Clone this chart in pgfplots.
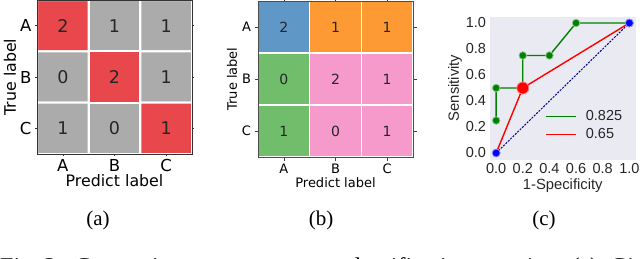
\documentclass[border=0pt]{standalone}
\usepackage{fontspec}
\setmainfont{DejaVu Sans}
\newfontfamily\arialf{Liberation Sans}
\newfontfamily\timesf{Liberation Serif}
\usepackage{pgfplots}
\pgfplotsset{compat=1.18}
\definecolor{cmred}{RGB}{232,71,75}
\definecolor{cmgray}{RGB}{171,171,171}
\definecolor{sbbg}{RGB}{234,234,242}
\definecolor{rocgreen}{RGB}{0,128,0}
\definecolor{rocnavy}{RGB}{0,0,140}
\newcommand{\fs}[1]{\fontsize{#1}{#1}\selectfont}
\begin{document}
\begin{tikzpicture}[x=1pt,y=1pt]
% ---------- (a)
\begin{axis}[at={(37pt,104pt)}, anchor=south west, scale only axis,
  width=155pt, height=154pt,
  xmin=-0.5, xmax=2.5, ymin=-0.5, ymax=2.5, y dir=reverse,
  xtick={0,1,2}, ytick={0,1,2}, xticklabels={A,B,C}, yticklabels={A,B,C},
  tick align=outside, major tick length=2pt, tick style={black!80, line width=0.6pt},
  axis line style={black!80, line width=0.8pt}, axis on top,
  tick label style={font=\fs{16.5}},
  xlabel={Predict label}, ylabel={True label},
  label style={font=\fs{15.8}},
  xlabel style={yshift=4pt}, ylabel style={yshift=-3pt},
  colormap={cmA}{rgb255=(171,171,171) rgb255=(232,71,75)},
  colormap access=direct]
\addplot[matrix plot*, mesh/cols=3, point meta=explicit, draw=white, line width=2pt]
  table[meta=c] {
x y c
0 0 1
1 0 0
2 0 0
0 1 0
1 1 1
2 1 0
0 2 0
1 2 0
2 2 1
};
\addplot[draw=none, mark=none, point meta=explicit symbolic,
  nodes near coords={\pgfplotspointmeta},
  every node near coord/.append style={anchor=center, font=\fs{17.5}, text=black!85}]
  table[meta=v] {
x y v
0 0 2
1 0 1
2 0 1
0 1 0
1 1 2
2 1 1
0 2 1
1 2 0
2 2 1
};
\end{axis}
% ---------- (b)
\begin{axis}[at={(258pt,101pt)}, anchor=south west, scale only axis,
  width=155pt, height=156pt,
  xmin=-0.5, xmax=2.5, ymin=-0.5, ymax=2.5, y dir=reverse,
  xtick={0,1,2}, ytick={0,1,2}, xticklabels={A,B,C}, yticklabels={A,B,C},
  tick align=outside, major tick length=3.5pt, tick style={black!75, line width=0.6pt},
  axis line style={black!70, line width=0.6pt}, axis on top,
  tick label style={font=\fs{13}},
  xlabel={Predict label}, ylabel={True label},
  label style={font=\fs{13}},
  xlabel style={yshift=3pt}, ylabel style={yshift=-2pt},
  colormap={cmB}{rgb255=(95,151,199) rgb255=(253,154,51) rgb255=(112,190,107) rgb255=(246,154,204)},
  colormap access=direct]
\addplot[matrix plot*, mesh/cols=3, point meta=explicit, draw=white, line width=1.5pt]
  table[meta=c] {
x y c
0 0 0
1 0 1
2 0 1
0 1 2
1 1 3
2 1 3
0 2 2
1 2 3
2 2 3
};
\addplot[draw=none, mark=none, point meta=explicit symbolic,
  nodes near coords={\pgfplotspointmeta},
  every node near coord/.append style={anchor=center, font=\fs{14}, text=black!85}]
  table[meta=v] {
x y v
0 0 2
1 0 1
2 0 1
0 1 0
1 1 2
2 1 1
0 2 1
1 2 0
2 2 1
};
\end{axis}
% ---------- (c)
\begin{axis}[at={(489.5pt,98.5pt)}, anchor=south west, scale only axis,
  width=146.5pt, height=143pt,
  xmin=-0.05, xmax=1.05, ymin=-0.05, ymax=1.05,
  axis background/.style={fill=sbbg}, axis line style={draw=none},
  major tick length=0pt,
  xtick={0,0.2,0.4,0.6,0.8,1}, ytick={0,0.2,0.4,0.6,0.8,1},
  tick label style={font=\arialf\fs{14.5}, text=black!85},
  /pgf/number format/.cd, fixed, fixed zerofill, precision=1, assume math mode=true, /pgfplots/.cd,
  xlabel={1-Specificity}, ylabel={Sensitivity},
  label style={font=\arialf\fs{14.8}, text=black!85},
  xlabel style={yshift=1pt}, ylabel style={yshift=-3pt},
  legend style={draw=none, fill=none, at={(0.36,0.37)}, anchor=north west,
    font=\arialf\fs{14.5}, row sep=2pt, text=black!85},
  legend cell align=left,
  legend image code/.code={\draw[#1] (0pt,0pt) -- (30pt,0pt);}]
\addplot[rocgreen, line width=1.4pt, mark=*, mark size=3.8pt,
  mark options={fill=rocgreen, draw=rocgreen!45, line width=0.8pt}]
  coordinates {(0,0.25) (0,0.5) (0.2,0.5) (0.2,0.75) (0.4,0.75) (0.6,1.0) (1.0,1.0)};
\addlegendentry{\hspace{7pt}0.825}
\addplot[red, line width=1.4pt, mark=none]
  coordinates {(0,0) (0.2,0.5) (1,1)};
\addlegendentry{\hspace{7pt}0.65}
\addplot[only marks, mark=*, mark size=6pt,
  mark options={fill=red, draw=red!50, line width=0.8pt}, forget plot]
  coordinates {(0.2,0.5)};
\addplot[rocnavy, line width=1pt, dash pattern=on 2pt off 1.3pt, mark=*, mark size=4pt,
  mark options={solid, fill=blue, draw=blue!45, line width=0.8pt}, forget plot]
  coordinates {(0,0) (1,1)};
\end{axis}
% ---------- captions
\node[font=\timesf\fs{21}] at (98pt,38pt) {(a)};
\node[font=\timesf\fs{21}] at (321pt,38pt) {(b)};
\node[font=\timesf\fs{21}] at (544pt,38pt) {(c)};
\node[anchor=base west, inner sep=0pt, font=\timesf\fs{24}] at (0pt,-16pt)
  {Fig.~3:\ \ Comparison\ \ among\ \ some\ \ classification\ \ metrics.\ \ (a)\ \ Given};
\pgfresetboundingbox
\useasboundingbox (0pt,0pt) rectangle (640pt,258pt);
\end{tikzpicture}
\end{document}
